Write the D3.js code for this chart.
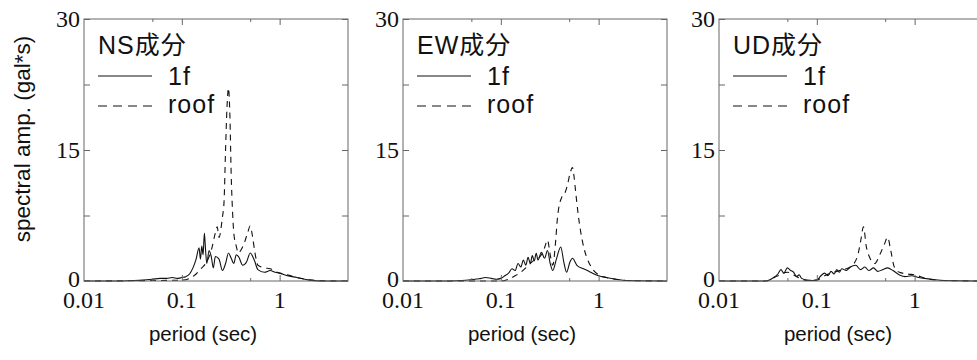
<!DOCTYPE html>
<html>
<head>
<meta charset="utf-8">
<script src="https://cdn.jsdelivr.net/npm/d3@7"></script>
<style>
  body { margin: 0; background: #fff; }
  svg { display: block; }
  .tick-label { font-family: "Liberation Serif", "DejaVu Serif", serif; font-size: 24px; fill: #111; }
  .axis-title { font-family: "Liberation Sans", Arial, sans-serif; font-size: 20.5px; fill: #111; }
  .y-title { font-family: "Liberation Sans", Arial, sans-serif; font-size: 22.5px; fill: #111; }
  .legend { font-family: "Liberation Sans", "Noto Sans CJK JP", sans-serif; font-size: 25px; fill: #111; letter-spacing: 1px; }
</style>
</head>
<body>
<div id="chart"></div>
<script>
// panel titles and legend entries
const panels = ['NS成分', 'EW成分', 'UD成分'];
const seriesNames = ['1f', 'roof'];

// tick values
const xMajorTicks = [0.01, 0.1, 1];
const xMinorTicks = [0.05, 0.5];
const yTicks = [0, 7.5, 15, 22.5, 30];
const yLabels = [0, 15, 30];

// NS component
const ns1fPeriod = [0.01,0.02,0.03,0.04,0.05,0.06,0.07,0.08,0.09,0.1,0.11,0.12,0.13,0.14,0.15,0.155,0.16,0.165,0.17,0.175,0.18,0.19,0.2,0.21,0.22,0.24,0.26,0.28,0.3,0.32,0.34,0.36,0.38,0.42,0.46,0.5,0.55,0.6,0.7,0.8,0.9,1.0,1.2,1.5,2,3,5];
const ns1fAmp = [0,0,0.05,0.1,0.2,0.3,0.3,0.4,0.3,0.4,0.5,0.8,1.5,2.5,3.8,2.5,4.0,3.0,5.5,3.5,2.0,3.5,2.8,1.5,2.8,2.5,1.2,2.0,3.2,2.6,2.0,3.0,2.8,1.8,2.2,3.2,2.4,1.3,1.0,1.2,1.0,0.9,0.6,0.4,0.1,0,0];
const nsRoofPeriod = [0.01,0.1,0.12,0.14,0.16,0.18,0.2,0.22,0.23,0.24,0.26,0.27,0.28,0.29,0.3,0.31,0.32,0.33,0.34,0.36,0.38,0.4,0.44,0.47,0.5,0.53,0.56,0.6,0.7,0.8,0.9,1.0,1.2,1.5,2,3,5];
const nsRoofAmp = [0,0.1,0.3,0.8,1.5,2.2,3.5,5.5,6.2,5.0,7.3,9,15,20,22.1,19,12,8,5.5,4,3.2,3.5,4.5,5.5,6.3,5.0,3.2,1.8,1.5,1.4,1.1,0.9,0.7,0.4,0.15,0.02,0];

// EW component
const ew1fPeriod = [0.01,0.03,0.04,0.05,0.06,0.07,0.08,0.09,0.1,0.11,0.12,0.13,0.14,0.15,0.16,0.17,0.18,0.19,0.2,0.21,0.22,0.23,0.24,0.26,0.28,0.3,0.32,0.34,0.37,0.41,0.44,0.47,0.51,0.54,0.6,0.7,0.8,0.9,1.0,1.2,1.5,2,5];
const ew1fAmp = [0,0,0.05,0.15,0.25,0.4,0.3,0.2,0.3,0.6,0.9,1.4,1.2,2.0,1.6,2.4,1.8,2.7,2.0,2.9,2.3,3.2,2.4,3.3,2.6,3.5,2.0,1.2,2.5,3.9,2.2,1.0,2.2,2.6,1.8,1.4,1.1,0.8,0.6,0.4,0.2,0.05,0];
const ewRoofPeriod = [0.01,0.1,0.12,0.14,0.16,0.18,0.2,0.22,0.24,0.26,0.28,0.3,0.32,0.34,0.36,0.38,0.42,0.45,0.48,0.51,0.54,0.56,0.58,0.62,0.69,0.75,0.84,1.0,1.2,1.5,2,5];
const ewRoofAmp = [0,0,0.2,0.6,1.0,1.5,2.0,2.4,2.6,3.0,3.8,4.7,3.0,1.8,4.0,7.3,9.6,10.0,11.0,12.3,13.0,12.0,10.4,7.5,4.3,2.8,1.6,0.7,0.4,0.2,0.05,0];

// UD component
const ud1fPeriod = [0.01,0.03,0.035,0.04,0.043,0.046,0.05,0.054,0.058,0.062,0.066,0.07,0.08,0.09,0.1,0.11,0.12,0.13,0.14,0.15,0.16,0.17,0.18,0.2,0.22,0.25,0.28,0.31,0.34,0.38,0.42,0.47,0.53,0.6,0.7,0.8,0.93,1.1,1.5,2,5];
const ud1fAmp = [0,0,0.3,0.8,1.3,0.9,1.5,1.2,1.0,0.5,0.7,0.3,0.1,0.05,0.1,0.6,0.9,0.6,1.1,0.8,1.3,1.0,1.4,1.2,1.6,1.8,1.3,1.6,1.2,1.5,1.1,1.3,1.5,1.2,0.7,0.5,0.6,0.4,0.2,0.05,0];
const udRoofPeriod = [0.01,0.03,0.04,0.05,0.06,0.07,0.08,0.1,0.12,0.14,0.16,0.18,0.2,0.22,0.26,0.28,0.3,0.32,0.35,0.39,0.44,0.49,0.53,0.57,0.62,0.7,0.85,1.0,1.3,2,5];
const udRoofAmp = [0,0,0.6,1.0,0.6,0.2,0.05,0.1,0.6,0.9,1.1,1.3,1.4,1.6,2.8,4.5,6.2,4.0,2.6,2.0,3.0,4.2,5.0,3.5,1.6,1.0,0.8,0.7,0.3,0.05,0];

const panelData = [
    [d3.zip(ns1fPeriod, ns1fAmp), d3.zip(nsRoofPeriod, nsRoofAmp)],
    [d3.zip(ew1fPeriod, ew1fAmp), d3.zip(ewRoofPeriod, ewRoofAmp)],
    [d3.zip(ud1fPeriod, ud1fAmp), d3.zip(udRoofPeriod, udRoofAmp)],
];

// layout
const width = 977;
const height = 360;
const panelLefts = [84, 403, 719];
const panelW = 264;
const plotTop = 19;
const plotBottom = 281;

const svg = d3.select("#chart")
    .append("svg")
    .attr("width", width)
    .attr("height", height);

svg.append("rect").attr("width", width).attr("height", height).attr("fill", "#fff");

const y = d3.scaleLinear().domain([0, 30]).range([plotBottom, plotTop]);

panels.forEach((title, i) => {
    const left = panelLefts[i];
    const x = d3.scaleLog().domain([0.01, 5]).range([left, left + panelW]);
    const g = svg.append("g");

    // curves
    const line = d3.line()
        .x(d => x(d[0]))
        .y(d => y(d[1]))
        .curve(d3.curveMonotoneX);

    panelData[i].forEach((series, k) => {
        g.append("path")
            .datum(series)
            .attr("d", line)
            .attr("fill", "none")
            .attr("stroke", "#111")
            .attr("stroke-width", 1.1)
            .attr("stroke-dasharray", k === 1 ? "6,5" : null);
    });

    // frame
    g.append("rect")
        .attr("x", left)
        .attr("y", plotTop)
        .attr("width", panelW)
        .attr("height", plotBottom - plotTop)
        .attr("fill", "none")
        .attr("stroke", "#666")
        .attr("stroke-width", 1);

    // y ticks on both sides, pointing inward
    const yAxisL = d3.axisLeft(y).tickValues(yTicks).tickSize(-6).tickFormat("");
    const yAxisR = d3.axisRight(y).tickValues(yTicks).tickSize(-6).tickFormat("");
    g.append("g").attr("transform", `translate(${left},0)`).call(yAxisL);
    g.append("g").attr("transform", `translate(${left + panelW},0)`).call(yAxisR);

    // x ticks top and bottom
    const xTop = d3.axisTop(x).tickValues(xMajorTicks.slice(1)).tickSize(-6).tickFormat("");
    const xBot = d3.axisBottom(x).tickValues(xMajorTicks.slice(1)).tickSize(-6).tickFormat("");
    const xTopMinor = d3.axisTop(x).tickValues(xMinorTicks).tickSize(-3).tickFormat("");
    const xBotMinor = d3.axisBottom(x).tickValues(xMinorTicks).tickSize(-3).tickFormat("");
    g.append("g").attr("transform", `translate(0,${plotTop})`).call(xTop);
    g.append("g").attr("transform", `translate(0,${plotBottom})`).call(xBot);
    g.append("g").attr("transform", `translate(0,${plotTop})`).call(xTopMinor);
    g.append("g").attr("transform", `translate(0,${plotBottom})`).call(xBotMinor);

    g.selectAll(".domain").remove();
    g.selectAll(".tick line").attr("stroke", "#666");

    // tick labels
    g.selectAll(".ylab")
        .data(yLabels)
        .enter()
        .append("text")
        .attr("class", "tick-label")
        .attr("x", left - 4)
        .attr("y", d => y(d) + (d === 0 ? 6 : 8))
        .attr("text-anchor", "end")
        .text(d => d);

    g.selectAll(".xlab")
        .data(xMajorTicks)
        .enter()
        .append("text")
        .attr("class", "tick-label")
        .attr("x", d => x(d))
        .attr("y", 308)
        .attr("text-anchor", "middle")
        .text(d => d);

    // x title
    g.append("text")
        .attr("class", "axis-title")
        .attr("x", left + panelW / 2 - 13)
        .attr("y", 341)
        .attr("text-anchor", "middle")
        .text("period (sec)");

    // legend
    g.append("text")
        .attr("class", "legend")
        .attr("x", left + 14)
        .attr("y", 54)
        .text(title);

    seriesNames.forEach((name, k) => {
        const ly = 76 + k * 30;
        g.append("line")
            .attr("x1", left + 14)
            .attr("x2", left + 68)
            .attr("y1", ly)
            .attr("y2", ly)
            .attr("stroke", "#111")
            .attr("stroke-width", 1)
            .attr("stroke-dasharray", k === 1 ? "9,6" : null);
        g.append("text")
            .attr("class", "legend")
            .attr("x", left + 84)
            .attr("y", ly + 7 - k * 2 + 2)
            .text(name);
    });
});

// y title (first panel only)
svg.append("text")
    .attr("class", "y-title")
    .attr("transform", "translate(30,139) rotate(-90)")
    .attr("text-anchor", "middle")
    .text("spectral amp.  (gal*s)");
</script>
</body>
</html>
